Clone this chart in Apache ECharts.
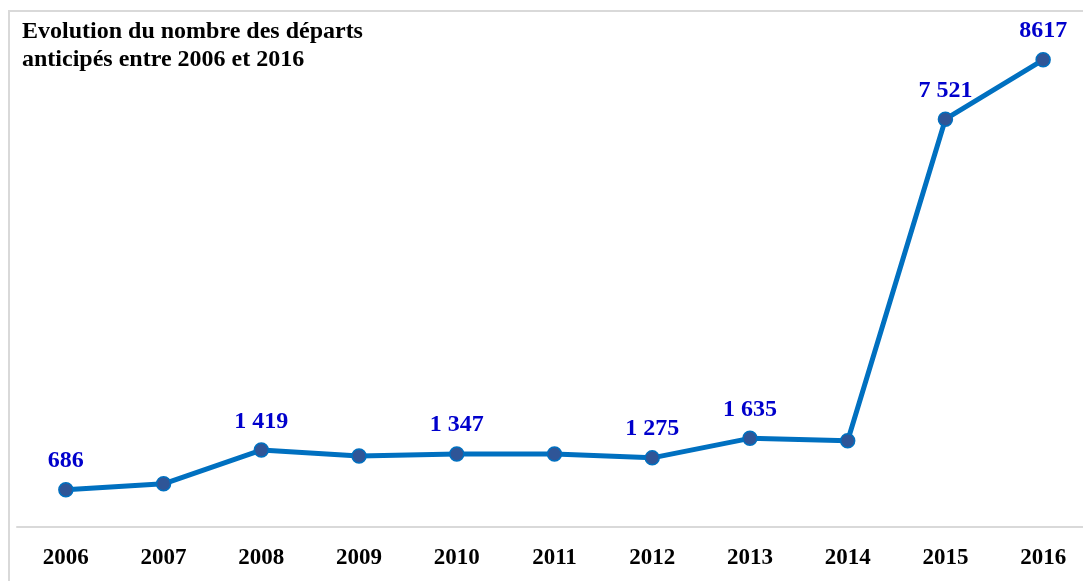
<!DOCTYPE html>
<html>
<head>
<meta charset="utf-8">
<script src="https://cdn.jsdelivr.net/npm/echarts@6/dist/echarts.min.js"></script>
<style>
  html, body { margin: 0; padding: 0; background: #fff; }
  #chart { width: 1083px; height: 581px; }
</style>
</head>
<body>
<div id="chart"></div>
<script>
  // années et nombre de départs anticipés
  const years = ['2006', '2007', '2008', '2009', '2010', '2011', '2012', '2013', '2014', '2015', '2016']
  const departs = [686, 797, 1419, 1310, 1347, 1345, 1275, 1635, 1590, 7521, 8617]
  // étiquettes affichées sur le graphique (seulement certains points)
  const pointLabels = ['686', null, '1 419', null, '1 347', null, '1 275', '1 635', null, '7 521', '8617']

  const serif = 'Liberation Serif, Times New Roman, serif'

  const chart = echarts.init(document.getElementById('chart'))

  const option = {
    animation: false,
    title: {
      text: 'Evolution du nombre des départs\nanticipés entre 2006 et 2016',
      left: 22,
      top: 18,
      padding: 0,
      textStyle: {
        fontFamily: serif,
        fontSize: 24,
        fontWeight: 'bold',
        color: '#000',
        lineHeight: 28
      }
    },
    graphic: [
      {
        type: 'rect',
        silent: true,
        shape: { x: 9, y: 11, width: 1200, height: 700 },
        style: { fill: 'none', stroke: '#d9d9d9', lineWidth: 2 }
      }
    ],
    grid: {
      left: 17,
      width: 1075,
      top: 39,
      bottom: 54,
      outerBoundsMode: 'none'
    },
    xAxis: {
      type: 'category',
      data: years,
      boundaryGap: true,
      axisLine: { lineStyle: { color: '#d9d9d9', width: 2 } },
      axisTick: { show: false },
      axisLabel: {
        margin: 20,
        fontFamily: serif,
        fontSize: 23,
        fontWeight: 'bold',
        color: '#000'
      }
    },
    yAxis: {
      type: 'value',
      min: 0,
      max: 9000,
      show: false,
      splitLine: { show: false }
    },
    series: [
      {
        type: 'line',
        data: departs.map((v, i) => ({
          value: v,
          label: { show: pointLabels[i] !== null }
        })),
        symbol: 'circle',
        symbolSize: 14,
        lineStyle: { color: '#0070C0', width: 5 },
        itemStyle: { color: '#2F5597', borderColor: '#0070C0', borderWidth: 1.5 },
        label: {
          position: 'top',
          distance: 9,
          formatter: p => pointLabels[p.dataIndex] || '',
          fontFamily: serif,
          fontSize: 24,
          fontWeight: 'bold',
          color: '#0000CC'
        }
      }
    ]
  }

  chart.setOption(option)
</script>
</body>
</html>
